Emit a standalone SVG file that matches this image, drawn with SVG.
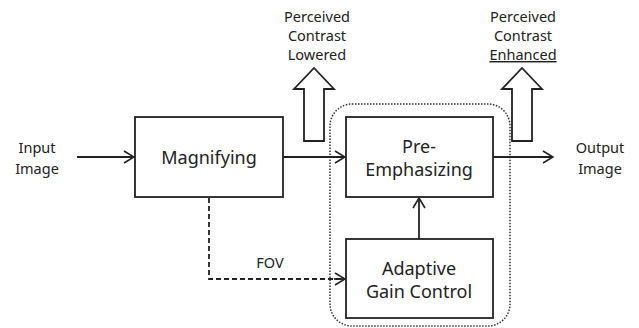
<svg xmlns="http://www.w3.org/2000/svg" width="639" height="328" viewBox="0 0 639 328">
<defs>
<marker id="ah" viewBox="0 0 12 14" refX="11" refY="7" markerWidth="12" markerHeight="14" markerUnits="userSpaceOnUse" orient="auto">
<path d="M1,1 L11,7 L1,13" fill="none" stroke="#222" stroke-width="1.6"/>
</marker>
<style>
.box{fill:#fff;stroke:#222;stroke-width:1.8}
.t{font-family:"Noto Sans","Open Sans",sans-serif;fill:#222;text-anchor:middle}
.big{font-size:18px}
.sm{font-size:14.5px}
.line{fill:none;stroke:#222;stroke-width:1.8}
.dash{fill:none;stroke:#222;stroke-width:1.8;stroke-dasharray:5 3}
.hollow{fill:#fff;stroke:#222;stroke-width:1.8;stroke-linejoin:miter}
</style>
</defs>
<rect width="639" height="328" fill="#fff"/>
<g id="group">
<rect x="330" y="104" width="180" height="222" rx="22" fill="none" stroke="#333" stroke-width="1.5" stroke-dasharray="1.5 1.5"/>
</g>
<g id="connectors">
<line class="line" x1="77" y1="157" x2="134" y2="157" marker-end="url(#ah)"/>
<line class="line" x1="283" y1="157" x2="345" y2="157" marker-end="url(#ah)"/>
<line class="line" x1="493" y1="157" x2="553" y2="157" marker-end="url(#ah)"/>
<line class="line" x1="419" y1="239" x2="419" y2="198" marker-end="url(#ah)"/>
<polyline class="dash" points="209,198 209,279 344,279"/>
<line class="line" x1="334" y1="279" x2="345" y2="279" marker-end="url(#ah)"/>
<text class="t sm" x="270" y="268">FOV</text>
</g>
<g id="input">
<text class="t sm" x="37" y="153">Input</text>
<text class="t sm" x="37" y="174">Image</text>
</g>
<g id="magnifying">
<rect class="box" x="135" y="117" width="148" height="80"/>
<text class="t big" x="209" y="164">Magnifying</text>
</g>
<g id="pre-emphasizing">
<rect class="box" x="346" y="117" width="147" height="80"/>
<text class="t big" x="419" y="153">Pre-</text>
<text class="t big" x="419" y="176">Emphasizing</text>
</g>
<g id="adaptive-gain-control">
<rect class="box" x="346" y="239" width="147" height="79"/>
<text class="t big" x="419" y="275">Adaptive</text>
<text class="t big" x="419" y="298">Gain Control</text>
</g>
<g id="output">
<text class="t sm" x="600" y="153">Output</text>
<text class="t sm" x="600" y="174">Image</text>
</g>
<g id="lowered">
<path class="hollow" d="M304,141 L304,89 L294,89 L314,68 L334,89 L324,89 L324,141 Z"/>
<text class="t sm" x="317" y="22">Perceived</text>
<text class="t sm" x="317" y="41">Contrast</text>
<text class="t sm" x="317" y="60">Lowered</text>
</g>
<g id="enhanced">
<path class="hollow" d="M512,141 L512,89 L502,89 L522,68 L542,89 L532,89 L532,141 Z"/>
<text class="t sm" x="523" y="22">Perceived</text>
<text class="t sm" x="523" y="41">Contrast</text>
<text class="t sm" x="523" y="60" text-decoration="underline">Enhanced</text>
</g>
</svg>
